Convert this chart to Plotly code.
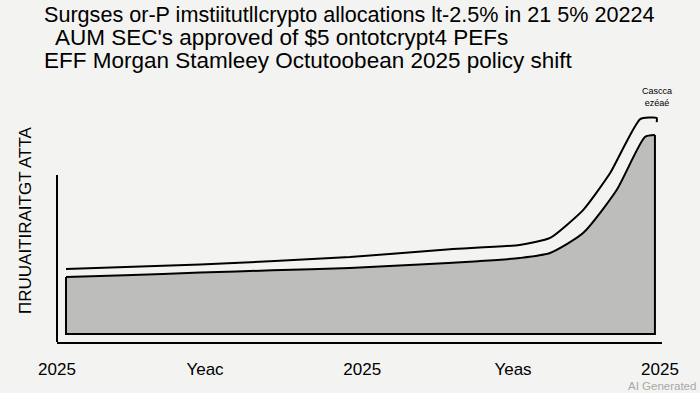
import plotly.graph_objects as go

# ---- data ----
periods = [0, 10, 22.8, 35, 48.2, 60, 70, 77, 82.2, 87.8, 93.5, 98.3, 100]
allocation = [26.9, 27.6, 28.7, 29.6, 30.6, 32.0, 33.4, 34.7, 36.8, 45.0, 62.8, 84.7, 85.5]
line_periods = [0, 22.8, 48.2, 65.2, 77, 82.2, 87.8, 92.4, 97.5, 100.3, 100.3]
upper_line = [30.2, 32.0, 35.1, 38.3, 40.1, 43.0, 54.5, 69.8, 92.1, 92.6, 90.9]
base_level = 3.3
tick_positions = [-1.53, 23.6, 50.3, 75.9, 100.85]
tick_labels = ["2025", "Yeac", "2025", "Yeas", "2025"]
title_lines = [
    "Surgses or-P imstiitutllcrypto allocations lt-2.5% in 21 5% 20224",
    " AUM SEC's approved of $5 ontotcrypt4 PEFs",
    "EFF Morgan Stamleey Octutoobean 2025 policy shift",
]
y_title = "ПRUUAITIRAITGT ATTA"
corner_label = "Cascca<br>ezéaé"

BG = "#f3f3f1"
FONT = "Liberation Sans"

fig = go.Figure()

# outline of area: left edge, bottom, right edge
fig.add_trace(go.Scatter(
    x=[periods[0], periods[0], periods[-1], periods[-1]],
    y=[allocation[0], base_level, base_level, allocation[-1]],
    mode="lines", line=dict(color="black", width=2), hoverinfo="skip",
    showlegend=False))
# area top (filled down to outline)
fig.add_trace(go.Scatter(
    x=periods, y=allocation, mode="lines",
    line=dict(color="black", width=2, shape="spline", smoothing=0.6),
    fill="tonexty", fillcolor="#bdbdbb", showlegend=False))
# upper line
fig.add_trace(go.Scatter(
    x=line_periods, y=upper_line, mode="lines",
    line=dict(color="black", width=2, shape="spline", smoothing=0.5),
    showlegend=False))

fig.update_xaxes(range=[-1.53, 101.2], showgrid=False, zeroline=False,
                 showline=True, linecolor="black", linewidth=2,
                 tickvals=tick_positions, ticktext=tick_labels, ticks="",
                 ticklabelstandoff=11,
                 tickfont=dict(family=FONT, size=17, color="black"))
fig.update_yaxes(range=[0, 100], showgrid=False, zeroline=False,
                 showline=False, showticklabels=False)

# y axis line (shorter than plot area)
fig.add_shape(type="line", xref="paper", yref="y", x0=0, x1=0, y0=-1.5, y1=69,
              line=dict(color="black", width=2))

annotations = []
ys = [14, 37, 60]
xs = [42, 48, 42]
sizes = [21.6, 22.5, 22.5]
for t, yy, xx, sz in zip(title_lines, ys, xs, sizes):
    annotations.append(dict(text=t, xref="paper", yref="paper",
                            x=(xx - 57) / 605, y=(342 - yy) / 242,
                            xanchor="left", yanchor="middle", showarrow=False,
                            font=dict(family=FONT, size=sz, color="black")))
annotations.append(dict(text=y_title, xref="paper", yref="paper",
                        x=(25 - 57) / 605, y=(342 - 220) / 242, textangle=-90,
                        xanchor="center", yanchor="middle", showarrow=False,
                        font=dict(family=FONT, size=17, color="black")))
annotations.append(dict(text=corner_label, xref="paper", yref="paper",
                        x=(657 - 57) / 605, y=(342 - 97) / 242,
                        xanchor="center", yanchor="middle", showarrow=False,
                        font=dict(family=FONT, size=9, color="black")))
annotations.append(dict(text="AI Generated", xref="paper", yref="paper",
                        x=(697 - 57) / 605, y=(342 - 386) / 242,
                        xanchor="right", yanchor="middle", showarrow=False,
                        borderpad=0,
                        font=dict(family=FONT, size=11.5, color="#a8a8a8")))

fig.update_layout(width=700, height=393, paper_bgcolor=BG, plot_bgcolor=BG,
                  margin=dict(l=57, r=38, t=100, b=51),
                  annotations=annotations, showlegend=False)

fig.write_html("out.html", config={"displayModeBar": False},
               post_script="document.body.style.margin='0';document.body.style.overflow='hidden';")
